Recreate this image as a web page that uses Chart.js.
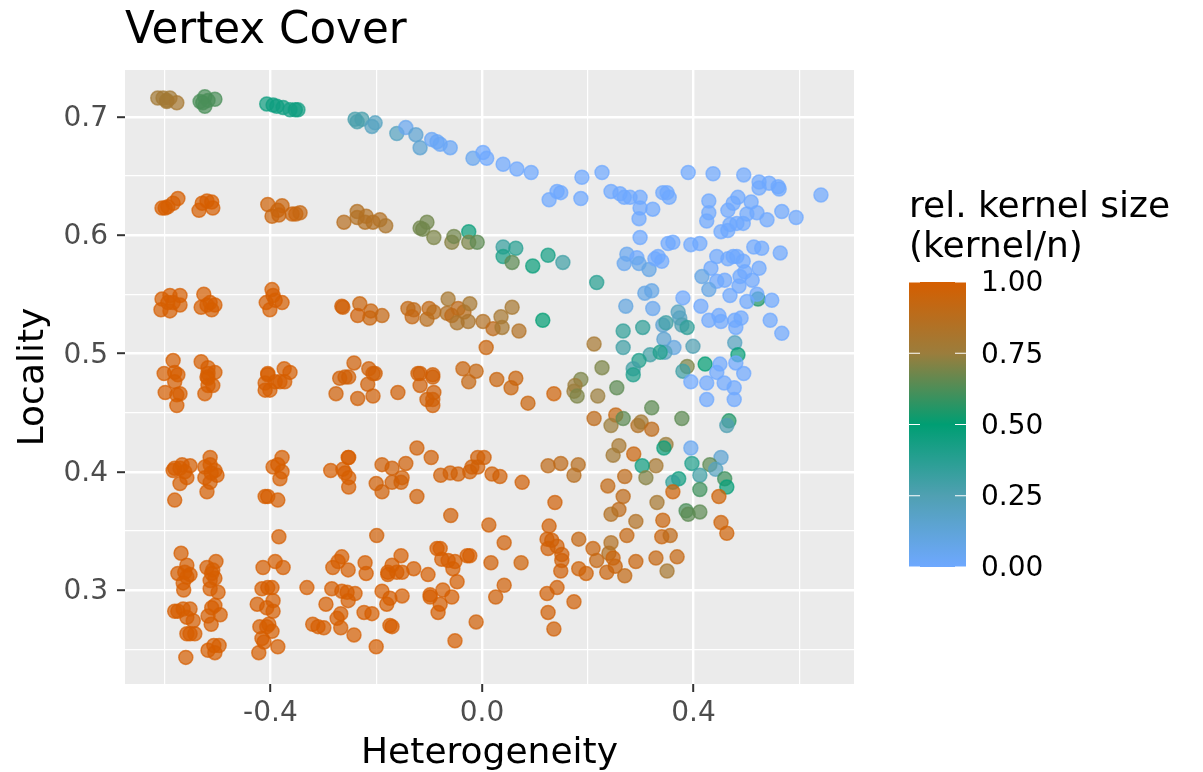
<!DOCTYPE html>
<html>
<head>
<meta charset="utf-8">
<title>Vertex Cover</title>
<script src="https://cdn.jsdelivr.net/npm/chart.js@4/dist/chart.umd.min.js"></script>
<style>
  html, body { margin: 0; padding: 0; background: #fff; }
  canvas { display: block; }
</style>
</head>
<body>
<canvas id="coverChart" width="1203" height="772"></canvas>
<script>
const chartTitle = 'Vertex Cover';
const xTitle = 'Heterogeneity';
const yTitle = 'Locality';
const legendTitle = ['rel. kernel size', '(kernel/n)'];
const legendValues = [1, 0.75, 0.5, 0.25, 0];
const legendLabels = ['1.00', '0.75', '0.50', '0.25', '0.00'];

const colorStops = [0, 0.25, 0.5, 0.75, 1];
const colorRgb = [[110,168,255], [80,160,178], [0,158,115], [155,125,60], [213,94,0]];

// top arc
const topX = [-.613,-.603,-.596,-.590,-.596,-.577, -.533,-.524,-.518,-.505,-.524,-.528, -.407,-.395,-.376,-.363,-.348,-.353,-.388, -.240,-.227,-.236,-.202,-.208, -.161,-.144,-.125,-.117,-.095,-.079,-.060,-.085,-.017,.002,.009, .522];
const topY = [.716,.716,.714,.716,.713,.712, .713,.717,.714,.715,.709,.712, .711,.710,.708,.706,.706,.706,.709, .698,.698,.696,.695,.692, .686,.691,.685,.674,.681,.677,.674,.679,.665,.670,.665, .546];
const topK = [.78,.78,.78,.78,.78,.8, .62,.62,.62,.62,.62,.62, .45,.45,.45,.43,.43,.45,.45, .27,.27,.27,.2,.2, .2,.05,.15,.15,.03,.03,.03,.03,.05,0,0, .55];

// blue cloud, upper part
const blueUpperX = [.040,.066,.093,.189,.227,.390,.437,.495,.524,.543,.524,.560,.562,.641,.142,.149,.127,.187,.244,.261,.269,.280,.299,.342,.350,.354,.299,.323,.297,.429,.429,.425,.452,.465,.469,.482,.494,.484,.475,.465,.509,.501,.520,.539,.567,.594];
const blueUpperY = [.660,.656,.653,.649,.653,.653,.652,.651,.645,.644,.640,.641,.639,.634,.637,.636,.630,.631,.637,.635,.632,.632,.632,.636,.636,.632,.623,.622,.614,.629,.619,.612,.603,.604,.609,.610,.610,.632,.627,.621,.628,.618,.619,.613,.620,.615];
const blueUpperK = 0;

// blue cloud, lower part
const blueLowerX = [.299,.352,.361,.395,.412,.514,.529,.564,.274,.293,.269,.297,.316,.333,.340,.327,.444,.465,.475,.482,.494,.433,.416,.497,.488,.524,.444,.459,.511,.486,.429,.308,.321,.380,.469,.520,.501,.548,.272,.323,.414,.429,.448,.452,.478,.490,.480,.545,.567];
const blueLowerY = [.598,.593,.594,.592,.593,.590,.589,.585,.584,.581,.576,.576,.571,.582,.578,.580,.582,.580,.582,.582,.578,.572,.565,.569,.565,.572,.561,.562,.562,.557,.554,.551,.553,.547,.549,.550,.544,.545,.540,.538,.540,.528,.532,.527,.528,.530,.522,.528,.517];
const blueLowerK = [0,0,0,0,0,0,0,0,.05,0,.05,.07,.08,0,0,0,0,0,0,0,0,0,.08,0,0,0,0,0,0,0,.08,.08,.08,0,0,0,0,0,.1,.05,0,0,0,0,0,0,0,0,0];

// teal points between the blue and orange groups
const tealX = [.371,.374,.378,.388,.342,.348,.304,.267,.267,.344,.363,.399,.346,.478,.484,.318,.337,.297,.286,.286,.388,.422,.380,.450,.480,.444,.495,.395,.425,.458,.477,.425,.477];
const tealY = [.535,.530,.524,.522,.524,.526,.522,.519,.505,.512,.505,.506,.501,.509,.499,.499,.501,.494,.487,.482,.489,.491,.485,.491,.492,.484,.483,.476,.475,.475,.471,.461,.461];
const tealK = [.2,.2,.25,.35,.15,.3,.35,.35,.3,.15,.1,.25,.2,.2,.48,.3,.4,.4,.3,.4,.7,.5,.3,0,0,0,0,0,0,0,0,0,0];

// row near 0.6
const row60X = [-.599,-.594,-.584,-.575,-.605,-.535,-.529,-.520,-.511,-.509, -.405,-.378,-.397,-.386,-.384,-.359,-.352,-.344, -.261,-.236,-.236,-.219,-.221,-.206,-.193,-.182, -.117,-.104,-.112,-.091,-.057,-.053,-.025,-.025,-.009, .040,.064,.040,.057,.096,.125,.153,.217];
const row60Y = [.623,.624,.627,.631,.623,.621,.627,.629,.628,.623, .626,.625,.616,.621,.617,.618,.618,.619, .611,.620,.615,.616,.611,.611,.613,.608, .606,.611,.605,.598,.594,.599,.603,.594,.594, .590,.589,.582,.577,.574,.583,.577,.560];
const row60K = [1,1,1,1,1,1,1,1,1,1, .97,.95,.95,.95,.95,.95,.95,.93, .87,.85,.85,.85,.85,.85,.85,.82, .68,.68,.68,.7,.72,.68,.47,.7,.65, .33,.38,.42,.65,.47,.43,.3,.38];

// row near 0.54
const row54X = [-.605,-.590,-.571,-.607,-.590,-.571,-.594,-.584, -.526,-.531,-.511,-.514,-.505,-.520, -.397,-.395,-.408,-.401,-.378,-.391, -.265,-.263,-.231,-.210,-.235,-.212,-.189,-.140,-.129,-.132,-.104,-.100,-.091,-.064,-.066,-.045,-.057,-.034,-.023,-.047,-.026,.002,.057,.036,.021,.038,.070,.115,.008,.212];
const row54Y = [.546,.549,.549,.537,.536,.541,.543,.543, .550,.539,.537,.543,.541,.541, .554,.549,.543,.537,.543,.545, .540,.539,.542,.536,.532,.530,.532,.538,.537,.531,.529,.538,.535,.546,.534,.538,.532,.535,.542,.526,.527,.527,.539,.531,.521,.522,.519,.528,.505,.508];
const row54K = [1,1,1,1,1,1,1,1, 1,1,1,1,1,1, 1,1,1,1,1,1, .98,.98,.95,.95,.98,.95,.93,.92,.9,.93,.88,.92,.88,.8,.85,.9,.9,.88,.8,.82,.82,.85,.8,.8,.9,.8,.85,.5,.95,.8];

// row near 0.48
const row48X = [-.584,-.601,-.581,-.575,-.581,-.599,-.571,-.577,-.577, -.531,-.518,-.505,-.520,-.518,-.518,-.518,-.509,-.524, -.405,-.374,-.363,-.410,-.410,-.401,-.391,-.382,-.373,-.405, -.242,-.214,-.202,-.269,-.259,-.252,-.216,-.276,-.235,-.206,-.206,-.159, -.121,-.093,-.117,-.093,-.117,-.091,-.104,-.093,-.093, -.036,-.011,-.025, .028,.064,.055,.087,.136, .187,.176,.174,.180,.219,.255,.321,.227];
const row48Y = [.494,.483,.484,.482,.476,.467,.466,.465,.456, .493,.488,.484,.480,.483,.479,.473,.473,.466, .483,.487,.484,.475,.469,.469,.476,.476,.476,.482, .492,.487,.483,.479,.480,.480,.474,.466,.462,.464,.483,.467, .483,.482,.483,.480,.473,.467,.461,.461,.456, .487,.485,.476, .478,.479,.471,.458,.466, .478,.473,.468,.464,.464,.471,.454,.488];
const row48K = [1,1,1,1,1,1,1,1,1, 1,1,1,1,1,1,1,1,1, 1,1,1,1,1,1,1,1,1,1, .98,.98,.98,.98,.98,.98,.98,.98,.98,.98,.98,.98, .98,.98,.98,.98,.98,.98,.98,.98,.98, .95,.93,.93, .95,.95,.95,.95,.97, .7,.75,.75,.7,.75,.65,.65,.7];

// row near 0.4
const row40X = [-.581,-.567,-.552,-.584,-.571,-.562,-.558,-.571,-.581, -.514,-.514,-.524,-.505,-.524,-.501,-.514,-.520,-.512, -.378,-.395,-.386,-.378,-.382,-.410,-.405,-.386,-.384, -.253,-.252,-.286,-.263,-.259,-.252,-.252, -.189,-.170,-.144,-.123,-.096,-.200,-.189,-.170,-.153,-.151,-.123, -.078,-.060,-.045,-.023,-.019,-.008,-.008,.004,-.059,-.199,.019,.034,.076,.013,.042,.138, .125,.149,.182,.174];
const row40Y = [.403,.406,.405,.401,.403,.400,.395,.390,.376, .412,.406,.404,.401,.395,.397,.391,.383,.399, .412,.404,.406,.400,.394,.379,.379,.376,.345, .412,.412,.401,.402,.399,.395,.387, .406,.403,.407,.420,.412,.390,.383,.391,.391,.395,.379, .397,.399,.398,.400,.404,.404,.412,.412,.363,.346,.398,.396,.391,.355,.340,.374, .405,.407,.406,.397];
const row40K = [1,1,1,1,1,1,1,1,1, 1,1,1,1,1,1,1,1,1, 1,1,1,1,1,1,1,1,1, 1,1,1,1,1,1,1, .98,.98,.98,.98,.98,.98,.98,.98,.98,.98,.98, .98,.98,.98,.98,.98,.98,.98,.98,.98,.98,.98,.98,.98,.98,.98,.98, .9,.9,.87,.87];

// mixed colours to the lower right
const mixedX = [.212,.253,.244,.267,.295,.301,.321,.378,.467,.463,.348,.344,.395,.259,.248,.287,.452,.397,.431,.442,.329,.303,.412,.372,.361,.310,.270,.238,.459,.463,.412,.361,.448,.267,.259,.244,.331,.386,.390,.412,.291,.342,.452,.463,.274,.340,.356];
const mixedY = [.445,.448,.439,.445,.439,.442,.436,.445,.443,.439,.423,.420,.420,.422,.414,.415,.412,.407,.406,.402,.405,.405,.397,.394,.391,.395,.396,.388,.394,.387,.385,.383,.379,.379,.368,.364,.374,.367,.364,.366,.358,.359,.357,.348,.346,.345,.346];
const mixedK = [.9,.93,.75,.65,.85,.78,.9,.65,.55,.25,.75,.47,.05,.8,.78,.95,.15,.4,.65,.2,.8,.45,.3,.45,.35,.72,.9,.92,.6,.48,.6,.97,.97,.9,.9,.85,.8,.62,.65,.65,.85,.95,.97,.97,.93,.95,.9];

// right end of the bottom rows
const lowRightX = [.127,.123,.132,.125,.142,.151,.151,.149, .183,.210,.244,.240,.217,.248,.252,.236,.183,.197,.291,.270,.329,.369,.350, .017,.074,-.023,.042,.026,-.011,.123,.142,.174,.125,.136];
const lowRightY = [.354,.343,.342,.335,.337,.330,.325,.316, .343,.335,.340,.331,.325,.327,.320,.315,.318,.314,.324,.312,.327,.328,.316, .323,.323,.329,.304,.294,.273,.297,.302,.290,.281,.267];
const lowRightK = [.98,.98,.98,.98,.98,.98,.98,.98, .93,.95,.85,.85,.93,.95,.95,.95,.97,.97,.95,.92,.93,.93,.8, .98,.97,1,.98,.98,.98,.98,.98,.98,.98,.98];

// bottom rows, all at full kernel size
const bottomX = [-.569,-.558,-.575,-.562,-.552,-.565,-.564,-.558, -.520,-.503,-.509,-.514,-.505,-.514,-.499,-.511, -.414,-.391,-.376,-.416,-.405,-.397, -.425,-.395,-.407,-.395, -.575,-.581,-.552,-.565,-.558,-.546,-.505,-.511,-.495,-.518,-.512,-.543,-.558,-.552, -.420,-.403,-.407,-.397,-.416,-.412,-.422,-.386, -.518,-.507,-.497,-.505,-.560, -.331,-.284,-.265,-.255,-.240,-.253,-.295,-.267,-.274,-.320,-.310,-.299,-.267,-.242,-.200, -.265,-.272,-.282,-.253,-.221,-.219, -.189,-.174,-.180,-.151,-.223,-.208,-.174,-.170, -.153,-.170,-.178,-.178,-.161,-.151,-.129,-.102, -.085,-.079,-.076,-.064,-.051,-.055,-.028,-.047, -.098,-.098,-.074,-.057,-.079,-.083,-.051];
const bottomY = [.331,.321,.314,.315,.313,.306,.300,.311, .319,.324,.317,.308,.310,.301,.298,.314, .319,.324,.319,.301,.302,.302, .288,.291,.285,.282, .282,.282,.284,.284,.277,.274,.287,.285,.279,.278,.271,.263,.263,.263, .269,.271,.269,.265,.259,.256,.247,.252, .249,.253,.253,.247,.243, .302,.301,.299,.298,.297,.291,.288,.280,.276,.271,.269,.268,.268,.262,.252, .328,.324,.319,.317,.323,.314, .299,.293,.288,.295,.281,.280,.270,.269, .329,.321,.315,.313,.315,.315,.318,.313, .335,.335,.326,.325,.324,.318,.329,.307, .296,.294,.300,.294,.288,.281,.257];
const bottomK = 1;

function kernelRgb(k) {
  let i = 0;
  while (i < colorStops.length - 2 && k > colorStops[i + 1]) i++;
  const t = (k - colorStops[i]) / (colorStops[i + 1] - colorStops[i]);
  return colorRgb[i].map((c, j) => Math.round(c + (colorRgb[i + 1][j] - c) * t));
}

function pointColor(ctx) {
  return 'rgba(' + kernelRgb(ctx.raw.k).join(',') + ',0.7)';
}

function toPoints(xs, ys, ks) {
  return xs.map((x, i) => ({ x: x, y: ys[i], k: Array.isArray(ks) ? ks[i] : ks }));
}

const allPoints = [
  ...toPoints(topX, topY, topK),
  ...toPoints(blueUpperX, blueUpperY, blueUpperK),
  ...toPoints(blueLowerX, blueLowerY, blueLowerK),
  ...toPoints(tealX, tealY, tealK),
  ...toPoints(row60X, row60Y, row60K),
  ...toPoints(row54X, row54Y, row54K),
  ...toPoints(row48X, row48Y, row48K),
  ...toPoints(row40X, row40Y, row40K),
  ...toPoints(mixedX, mixedY, mixedK),
  ...toPoints(lowRightX, lowRightY, lowRightK),
  ...toPoints(bottomX, bottomY, bottomK)
];

// panel background, plot title and the colour bar legend
const decorations = {
  id: 'decorations',
  beforeDraw(chart) {
    const { ctx, chartArea: a } = chart;
    ctx.save();
    ctx.fillStyle = '#EBEBEB';
    ctx.fillRect(a.left, a.top, a.right - a.left, a.bottom - a.top);
    ctx.restore();
  },
  afterDraw(chart) {
    const ctx = chart.ctx;
    const font = '"DejaVu Sans"';
    ctx.save();
    ctx.fillStyle = '#000';
    ctx.textAlign = 'left';
    ctx.textBaseline = 'alphabetic';
    ctx.font = '43.6px ' + font;
    ctx.fillText(chartTitle, 125, 43);

    ctx.font = '36px ' + font;
    ctx.fillText(legendTitle[0], 909, 217);
    ctx.fillText(legendTitle[1], 909, 257);

    const barLeft = 909, barWidth = 57, barTop = 282, barHeight = 285;
    const grad = ctx.createLinearGradient(0, barTop + barHeight, 0, barTop);
    colorStops.forEach((s, i) => grad.addColorStop(s, 'rgb(' + colorRgb[i].join(',') + ')'));
    ctx.fillStyle = grad;
    ctx.fillRect(barLeft, barTop, barWidth, barHeight);

    ctx.font = '28px ' + font;
    ctx.textBaseline = 'middle';
    legendValues.forEach((v, i) => {
      const y = barTop + barHeight * (1 - v);
      ctx.strokeStyle = '#fff';
      ctx.lineWidth = 1.2;
      ctx.beginPath();
      ctx.moveTo(barLeft, y);
      ctx.lineTo(barLeft + 11, y);
      ctx.moveTo(barLeft + barWidth - 11, y);
      ctx.lineTo(barLeft + barWidth, y);
      ctx.stroke();
      ctx.fillStyle = '#000';
      ctx.fillText(legendLabels[i], 981, y + 2);
    });
    ctx.restore();
  }
};

new Chart(document.getElementById('coverChart').getContext('2d'), {
  type: 'scatter',
  data: {
    datasets: [{
      data: allPoints,
      pointRadius: 7,
      pointBorderWidth: 1.5,
      pointBackgroundColor: pointColor,
      pointBorderColor: pointColor
    }]
  },
  options: {
    responsive: false,
    animation: false,
    layout: { padding: { left: 0, top: 70, right: 349, bottom: 0 } },
    plugins: { legend: { display: false }, tooltip: { enabled: false } },
    scales: {
      x: {
        type: 'linear',
        min: -0.675,
        max: 0.7035,
        afterFit(s) { s.height = 88; },
        border: { display: false },
        grid: {
          color: '#fff',
          lineWidth: c => Math.round(c.tick.value * 10) % 4 === 0 ? 2.4 : 1.2,
          tickColor: c => Math.round(c.tick.value * 10) % 4 === 0 ? '#333' : 'rgba(0,0,0,0)',
          tickWidth: 2,
          tickLength: 8
        },
        ticks: {
          stepSize: 0.2,
          includeBounds: false,
          autoSkip: false,
          maxRotation: 0,
          padding: 5,
          color: '#4D4D4D',
          font: { family: '"DejaVu Sans"', size: 28 },
          callback: v => Math.round(v * 10) % 4 === 0 ? (Math.round(v * 10) / 10).toFixed(1) : ''
        },
        title: {
          display: true,
          text: xTitle,
          color: '#000',
          font: { family: '"DejaVu Sans"', size: 36 },
          padding: { top: 0, bottom: -3 }
        }
      },
      y: {
        type: 'linear',
        min: 0.2205,
        max: 0.7397,
        afterFit(s) { s.width = 125; },
        border: { display: false },
        grid: {
          color: '#fff',
          lineWidth: c => Math.round(c.tick.value * 100) % 10 === 0 ? 2.4 : 1.2,
          tickColor: c => Math.round(c.tick.value * 100) % 10 === 0 ? '#333' : 'rgba(0,0,0,0)',
          tickWidth: 2,
          tickLength: 8
        },
        ticks: {
          stepSize: 0.05,
          includeBounds: false,
          autoSkip: false,
          padding: 9,
          labelOffset: 2,
          color: '#4D4D4D',
          font: { family: '"DejaVu Sans"', size: 28 },
          callback: v => Math.round(v * 100) % 10 === 0 ? v.toFixed(1) : ''
        },
        title: {
          display: true,
          text: yTitle,
          color: '#000',
          font: { family: '"DejaVu Sans"', size: 36 },
          padding: { top: 12, bottom: 0 }
        }
      }
    }
  },
  plugins: [decorations]
});
</script>
</body>
</html>
